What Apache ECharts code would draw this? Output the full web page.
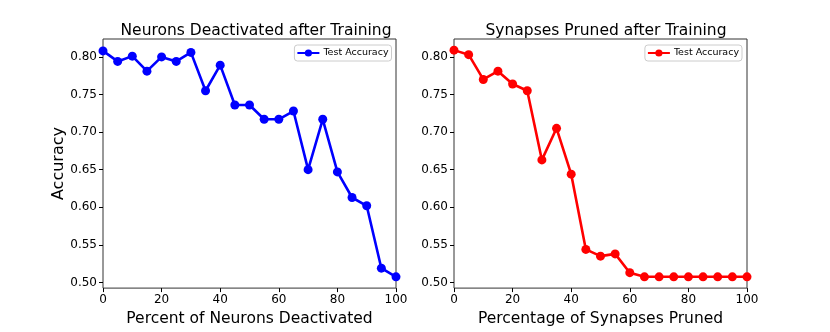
<!DOCTYPE html>
<html>
<head>
<meta charset="utf-8">
<script src="https://cdn.jsdelivr.net/npm/echarts@6/dist/echarts.min.js"></script>
<style>
  html, body { margin: 0; padding: 0; background: #fff; }
  #main { width: 830px; height: 332px; }
</style>
</head>
<body>
<div id="main"></div>
<script>
// x values: percent removed
var percents = [0, 5, 10, 15, 20, 25, 30, 35, 40, 45, 50, 55, 60, 65, 70, 75, 80, 85, 90, 95, 100];
// test accuracy
var neuronAcc = [0.808, 0.794, 0.801, 0.781, 0.800, 0.794, 0.806, 0.755, 0.789, 0.736, 0.736,
  0.717, 0.717, 0.728, 0.650, 0.717, 0.647, 0.613, 0.602, 0.519, 0.5075];
var synapseAcc = [0.809, 0.803, 0.770, 0.781, 0.764, 0.755, 0.663, 0.705, 0.644, 0.544, 0.535,
  0.538, 0.513, 0.5075, 0.5075, 0.5075, 0.5075, 0.5075, 0.5075, 0.5075, 0.5075];
var yTicks = [0.50, 0.55, 0.60, 0.65, 0.70, 0.75, 0.80];
var titles = ["Neurons Deactivated after Training", "Synapses Pruned after Training"];
var xNames = ["Percent of Neurons Deactivated", "Percentage of Synapses Pruned"];

var font = "DejaVu Sans";
var chart = echarts.init(document.getElementById("main"));

function pairs(ys) {
  return percents.map(function (x, i) { return [x, ys[i]]; });
}

function xAxisFor(i) {
  return {
    type: "value", gridIndex: i, min: 0, max: 100, interval: 20,
    name: xNames[i], nameLocation: "middle", nameGap: 18,
    nameTextStyle: { fontFamily: font, fontSize: 15.5, color: "#000" },
    axisLine: { show: false },
    axisTick: { show: true, inside: false, length: 4, lineStyle: { color: "#000" } },
    axisLabel: { fontFamily: font, fontSize: 12, color: "#000", margin: 6 },
    splitLine: { show: false }
  };
}

function yAxisFor(i) {
  return {
    type: "value", gridIndex: i, min: 0.4925, max: 0.8238,
    name: i === 0 ? "Accuracy" : "", nameLocation: "middle", nameGap: 34,
    nameTextStyle: { fontFamily: font, fontSize: 16, color: "#000" },
    axisLine: { show: false },
    axisTick: { show: true, inside: false, length: 4, customValues: yTicks, lineStyle: { color: "#000" } },
    axisLabel: {
      fontFamily: font, fontSize: 12, color: "#000", margin: 6, customValues: yTicks,
      formatter: function (v) { return v.toFixed(2); }
    },
    splitLine: { show: false }
  };
}

function seriesFor(i, name, ys, color) {
  return {
    type: "line", name: name, xAxisIndex: i, yAxisIndex: i, data: pairs(ys),
    symbol: "circle", symbolSize: 9,
    lineStyle: { color: color, width: 2.6 },
    itemStyle: { color: color },
    animation: false
  };
}

function legendFor(name, right) {
  return {
    data: [name], right: right, top: 45, orient: "vertical",
    itemWidth: 22, itemHeight: 9, itemGap: 0,
    padding: [3, 3, 3, 2],
    borderColor: "#cccccc", borderWidth: 1, borderRadius: 3,
    formatter: function () { return "Test Accuracy"; },
    textStyle: { fontFamily: font, fontSize: 9.5, color: "#000", padding: [0, 0, 0, -1] }
  };
}

var option = {
  backgroundColor: "#fff",
  title: [
    { text: titles[0], left: 251, top: 18, textAlign: "center",
      textStyle: { fontFamily: font, fontSize: 15.5, fontWeight: "normal", color: "#000" } },
    { text: titles[1], left: 601, top: 18, textAlign: "center",
      textStyle: { fontFamily: font, fontSize: 15.5, fontWeight: "normal", color: "#000" } }
  ],
  legend: [legendFor("neurons", 438.5), legendFor("synapses", 88)],
  grid: [
    { left: 103, top: 39, width: 293, height: 251, show: true, borderColor: "#333", borderWidth: 1 },
    { left: 454, top: 39, width: 293, height: 251, show: true, borderColor: "#333", borderWidth: 1 }
  ],
  xAxis: [xAxisFor(0), xAxisFor(1)],
  yAxis: [yAxisFor(0), yAxisFor(1)],
  series: [
    seriesFor(0, "neurons", neuronAcc, "#0000ff"),
    seriesFor(1, "synapses", synapseAcc, "#ff0000")
  ]
};

chart.setOption(option);
</script>
</body>
</html>
